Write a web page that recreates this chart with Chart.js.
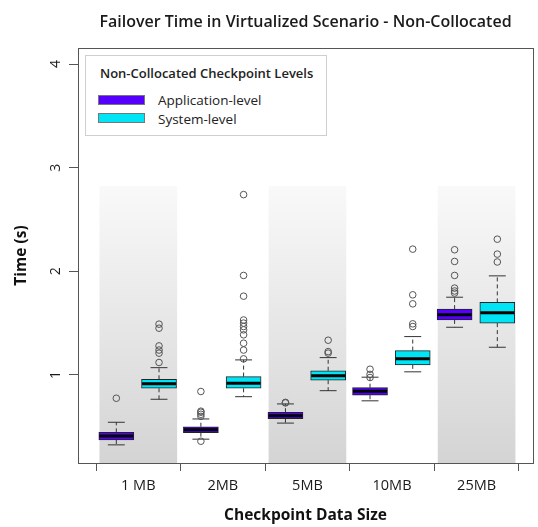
<!DOCTYPE html>
<html>
<head>
<meta charset="utf-8">
<script src="https://cdn.jsdelivr.net/npm/chart.js@4.4.1/dist/chart.umd.min.js"></script>
<style>
html,body{margin:0;padding:0;background:#fff;}
#wrap{position:relative;width:538px;height:527px;}
#legend{position:absolute;left:85px;top:55px;width:242px;height:81px;border:1px solid #cfcfcf;background:#fff;box-sizing:border-box;font-family:'Open Sans',sans-serif;color:#222;}
#legend .lt{position:absolute;left:14px;top:8px;font-size:13px;font-weight:600;line-height:18px;white-space:nowrap;}
#legend .sw{position:absolute;left:12px;width:47px;height:10px;border:1px solid #777;box-sizing:border-box;}
#legend .lb{position:absolute;left:72px;font-size:13.5px;line-height:18px;white-space:nowrap;}
</style>
</head>
<body>
<div id="wrap">
<canvas id="c" width="538" height="527"></canvas>
<div id="legend"></div>
</div>
<script>
// ---- data ----
const categories = ['1 MB', '2MB', '5MB', '10MB', '25MB'];
const yTicks = [1, 2, 3, 4];
const seriesNames = ['Application-level', 'System-level'];
const legendTitle = 'Non-Collocated Checkpoint Levels';

const appLow  = [0.325, 0.38, 0.535, 0.75, 1.46];
const appQ1   = [0.372, 0.443, 0.578, 0.804, 1.531];
const appMed  = [0.411, 0.472, 0.607, 0.842, 1.58];
const appQ3   = [0.446, 0.50, 0.64, 0.877, 1.635];
const appHigh = [0.543, 0.575, 0.72, 0.978, 1.75];
const appOutliers = [
  [0.775],
  [0.36, 0.60, 0.62, 0.64, 0.65, 0.84],
  [0.73, 0.735],
  [0.975, 1.005, 1.055],
  [1.79, 1.81, 1.838, 1.96, 2.095, 2.208]
];

const sysLow  = [0.765, 0.79, 0.848, 1.03, 1.267];
const sysQ1   = [0.871, 0.871, 0.949, 1.097, 1.50];
const sysMed  = [0.916, 0.92, 0.993, 1.155, 1.60];
const sysQ3   = [0.958, 0.984, 1.04, 1.235, 1.70];
const sysHigh = [1.07, 1.145, 1.167, 1.37, 1.956];
const sysOutliers = [
  [1.12, 1.21, 1.24, 1.28, 1.451, 1.49],
  [1.155, 1.24, 1.306, 1.387, 1.435, 1.467, 1.50, 1.53, 1.76, 1.96, 2.74],
  [1.21, 1.225, 1.335],
  [1.467, 1.493, 1.686, 1.773, 2.214],
  [2.09, 2.166, 2.31]
];

const shadedCategories = [0, 2, 4];
const shadeTop = 2.82;

// ---- layout / style ----
const Y_MIN = 0.15, Y_MAX = 4.155;
const X_MIN = 0.287, X_MAX = 5.667;
const OFFSETS = [-0.26, 0.245];
const MED_HALF = 0.2, CAP_HALF = 0.1;
const COLORS = ['#5500ff', '#00e5f5'];
const FONT = "'Open Sans', sans-serif";

const series = [
  {low: appLow, q1: appQ1, med: appMed, q3: appQ3, high: appHigh, out: appOutliers},
  {low: sysLow, q1: sysQ1, med: sysMed, q3: sysQ3, high: sysHigh, out: sysOutliers}
];

const datasets = [];

// shaded background bands
datasets.push({
  type: 'bar', label: 'band', order: 20, grouped: false,
  data: shadedCategories.map(i => ({x: i + 1, y: [Y_MIN, shadeTop]})),
  barThickness: 77,
  borderWidth: 0,
  backgroundColor: (ctx) => {
    const chart = ctx.chart;
    const area = chart.chartArea;
    if (!area || !chart.scales.y) return '#e8e8e8';
    const g = chart.ctx.createLinearGradient(0, chart.scales.y.getPixelForValue(shadeTop), 0, area.bottom);
    g.addColorStop(0, '#f9f9f9');
    g.addColorStop(1, '#d4d4d4');
    return g;
  }
});

series.forEach((s, k) => {
  const off = OFFSETS[k];
  // boxes
  datasets.push({
    type: 'bar', label: seriesNames[k], order: 5, grouped: false,
    data: categories.map((c, i) => ({x: i + 1 + off, y: [s.q1[i], s.q3[i]]})),
    barThickness: 35,
    backgroundColor: COLORS[k],
    borderColor: '#222',
    borderWidth: 1,
    borderSkipped: false
  });
  // dashed whiskers
  const wd = [];
  categories.forEach((c, i) => {
    const x = i + 1 + off;
    wd.push({x, y: s.q3[i]}, {x, y: s.high[i]}, {x, y: null});
    wd.push({x, y: s.q1[i]}, {x, y: s.low[i]}, {x, y: null});
  });
  datasets.push({
    type: 'line', label: 'whisker', order: 6, data: wd, spanGaps: false,
    borderColor: '#333', borderWidth: 1, borderDash: [4, 3], pointRadius: 0, fill: false
  });
  // caps
  const cd = [];
  categories.forEach((c, i) => {
    const x = i + 1 + off;
    cd.push({x: x - CAP_HALF, y: s.high[i]}, {x: x + CAP_HALF, y: s.high[i]}, {x, y: null});
    cd.push({x: x - CAP_HALF, y: s.low[i]}, {x: x + CAP_HALF, y: s.low[i]}, {x, y: null});
  });
  datasets.push({
    type: 'line', label: 'cap', order: 4, data: cd, spanGaps: false,
    borderColor: '#333', borderWidth: 1, pointRadius: 0, fill: false
  });
  // medians
  const md = [];
  categories.forEach((c, i) => {
    const x = i + 1 + off;
    md.push({x: x - MED_HALF, y: s.med[i]}, {x: x + MED_HALF, y: s.med[i]}, {x, y: null});
  });
  datasets.push({
    type: 'line', label: 'median', order: 2, data: md, spanGaps: false,
    borderColor: '#000', borderWidth: 3, pointRadius: 0, fill: false, borderCapStyle: 'butt'
  });
  // outliers
  const od = [];
  categories.forEach((c, i) => {
    s.out[i].forEach(v => od.push({x: i + 1 + off, y: v}));
  });
  datasets.push({
    type: 'scatter', label: 'outlier', order: 1, data: od,
    pointRadius: 3.3, pointBorderWidth: 1, pointBorderColor: '#555',
    pointBackgroundColor: 'rgba(0,0,0,0)', showLine: false
  });
});

const borderPlugin = {
  id: 'plotBorder',
  afterDraw(chart) {
    const a = chart.chartArea, c = chart.ctx;
    c.save();
    c.strokeStyle = '#555';
    c.lineWidth = 1;
    c.strokeRect(a.left + 0.5, a.top + 0.5, a.right - a.left, a.bottom - a.top);
    c.restore();
  }
};

new Chart(document.getElementById('c'), {
  type: 'bar',
  data: {datasets},
  plugins: [borderPlugin],
  options: {
    responsive: false,
    animation: false,
    devicePixelRatio: 1,
    layout: {padding: 0},
    plugins: {
      legend: {display: false},
      tooltip: {enabled: false},
      title: {
        display: true, fullSize: false,
        text: 'Failover Time in Virtualized Scenario - Non-Collocated',
        font: {family: FONT, size: 16, weight: '600'},
        color: '#1a1a1a',
        padding: {top: 13, bottom: 15.8}
      }
    },
    scales: {
      x: {
        type: 'linear', min: X_MIN, max: X_MAX, offset: false,
        afterFit: s => { s.height = 64; },
        afterBuildTicks: s => { s.ticks = categories.map((c, i) => ({value: i + 1})); },
        ticks: {
          autoSkip: false, maxRotation: 0, padding: 6,
          color: '#1a1a1a', font: {family: FONT, size: 14.5},
          callback: v => categories[Math.round(v) - 1]
        },
        grid: {drawOnChartArea: false, drawTicks: true, tickLength: 8, color: '#555'},
        border: {display: true, color: '#555'},
        title: {
          display: true, text: 'Checkpoint Data Size',
          font: {family: FONT, size: 15.5, weight: 'bold'}, color: '#111',
          padding: {top: 0, bottom: 2}
        }
      },
      y: {
        type: 'linear', min: Y_MIN, max: Y_MAX,
        afterFit: s => { s.width = 78; },
        afterBuildTicks: s => { s.ticks = yTicks.map(v => ({value: v})); },
        ticks: {
          minRotation: 90, maxRotation: 90, crossAlign: 'center', padding: 9,
          color: '#1a1a1a', font: {family: FONT, size: 14}
        },
        grid: {drawOnChartArea: false, drawTicks: true, tickLength: 9, color: '#555'},
        border: {display: true, color: '#555'},
        title: {
          display: true, text: 'Time (s)',
          font: {family: FONT, size: 15.5, weight: 'bold'}, color: '#111',
          padding: {top: 12, bottom: 0}
        }
      }
    }
  }
});

// legend built from the series names and colours
const lg = document.getElementById('legend');
const t = document.createElement('div');
t.className = 'lt'; t.textContent = legendTitle; lg.appendChild(t);
seriesNames.forEach((n, k) => {
  const sw = document.createElement('div');
  sw.className = 'sw'; sw.style.top = (39 + k * 18) + 'px'; sw.style.background = COLORS[k];
  lg.appendChild(sw);
  const lb = document.createElement('div');
  lb.className = 'lb'; lb.style.top = (35 + k * 19) + 'px'; lb.textContent = n;
  lg.appendChild(lb);
});
</script>
</body>
</html>
